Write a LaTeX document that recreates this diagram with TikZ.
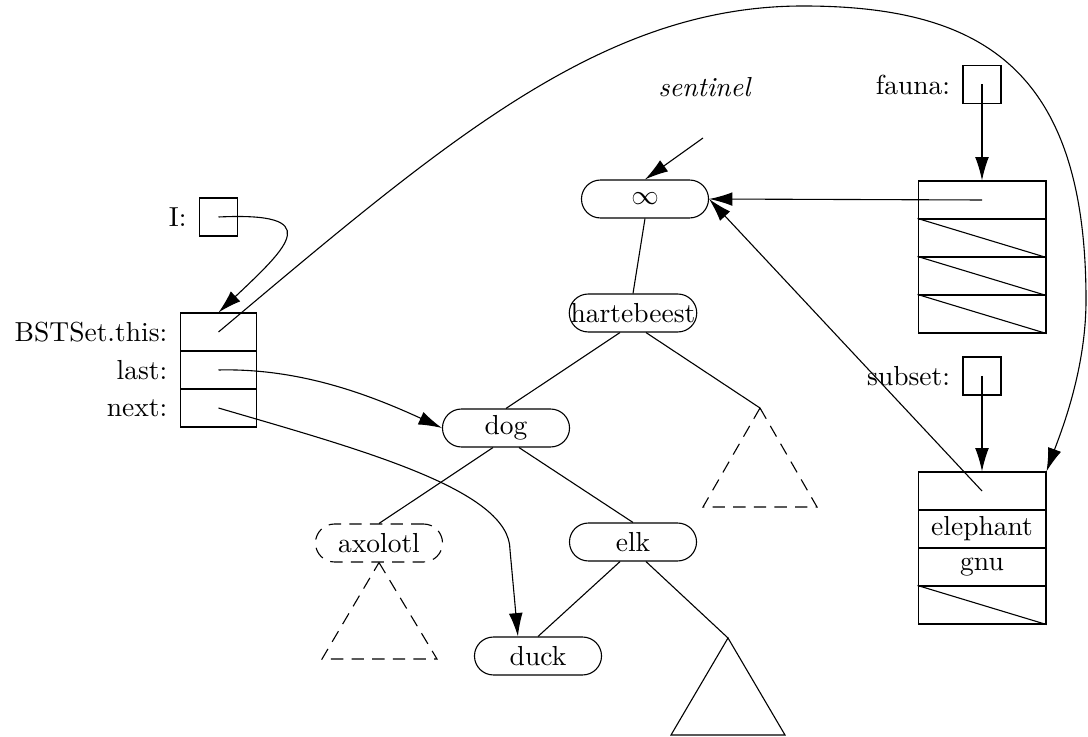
\documentclass[tikz,border=0pt]{standalone}
\usepackage{tikz}
\usetikzlibrary{positioning,arrows.meta}
\tikzset{
  cell/.style={draw, minimum width=46.5pt, minimum height=13.8pt, inner sep=0pt},
  slot/.style={draw, minimum width=13.8pt, minimum height=13.8pt, inner sep=0pt},
  field/.style={draw, minimum width=27.8pt, minimum height=13.8pt, inner sep=0pt},
  bstnode/.style={draw, rounded corners=6.9pt, minimum width=46.2pt, minimum height=13.8pt, inner sep=0.5pt},
  ptr/.style={-{Latex[length=8.5pt,width=5pt]}},
  gone/.style={dash pattern=on 4.5pt off 3pt},
}

\begin{document}
\begin{tikzpicture}[x=0.3636pt,y=-0.3636pt]
\useasboundingbox (0,0) rectangle (1088,737);
% the tree
\node[bstnode] (inf) at (645,199) {$\infty$};
\node[bstnode] (hart) at (633,313) {hartebeest};
\node[bstnode] (dog) at (506,428) {dog};
\node[bstnode, gone] (axo) at (379,543) {axolotl};
\node[bstnode] (elk) at (633,542) {elk};
\node[bstnode] (duck) at (538,656) {duck};
\coordinate (hsub) at (760,408);
\coordinate (esub) at (728,638);
\draw (inf.south) -- (hart.north);
\draw ([xshift=-4.7pt]hart.south) -- (dog.north);
\draw ([xshift=4.7pt]hart.south) -- (hsub);
\draw ([xshift=-4.7pt]dog.south) -- (axo.north);
\draw ([xshift=4.7pt]dog.south) -- (elk.north);
\draw ([xshift=-4.7pt]elk.south) -- (duck.north);
\draw ([xshift=4.7pt]elk.south) -- (esub);
\draw[gone] (hsub) -- (817,507) -- (703,507) -- cycle;
\draw[gone] (axo.south) -- (437,659) -- (322,659) -- cycle;
\draw (esub) -- (785,735) -- (671,735) -- cycle;
%
\node (sent) at (705,87) {\textit{sentinel}};
\coordinate (sentptr) at (703,138);
\draw[ptr] (sentptr) -- (inf.north);
% the iterator
\node[slot] (ibox) at (218.5,217) {};
\node (ilab) [left=1pt of ibox] {I:};
\node[field] (bthis) at (218.5,332) {};
\node[field] (blast) at (218.5,370) {};
\node[field] (bnext) at (218.5,408) {};
\node (thislab) [left=1pt of bthis] {BSTSet.this:};
\node (lastlab) [left=1pt of blast] {last:};
\node (nextlab) [left=1pt of bnext] {next:};
\draw[ptr] (ibox.center) .. controls (325,212) and (290,245) .. (bthis.north);
\draw[ptr] (blast.center) .. controls (300,368) and (370,395) .. (dog.west);
\draw[ptr] (bnext.center) .. controls (362,450) and (510,490) .. (510,550) -- ([xshift=-7.3pt]duck.north);
% fauna
\node[slot] (fbox) at (982,84.5) {};
\node (flab) [left=1pt of fbox] {fauna:};
\node[cell] (f1) at (982,200) {};
\node[cell] (f2) at (982,238) {};
\node[cell] (f3) at (982,276) {};
\node[cell] (f4) at (982,314) {};
\draw (f2.north west) -- (f2.south east);
\draw (f3.north west) -- (f3.south east);
\draw (f4.north west) -- (f4.south east);
\draw[ptr] (fbox.center) -- (f1.north);
\draw[ptr] (f1.center) -- (inf.east);
% subset
\node[slot] (sbox) at (982,376) {};
\node (slab) [left=1pt of sbox] {subset:};
\node[cell] (s1) at (982,491) {};
\node[cell] (s2) at (982,529) {elephant};
\node[cell] (s3) at (982,567) {gnu};
\node[cell] (s4) at (982,605) {};
\draw (s4.north west) -- (s4.south east);
\draw[ptr] (sbox.center) -- (s1.north);
\draw[ptr] (s1.center) -- (inf.east);
%
\draw[ptr] (bthis.center) .. controls (448,139) and (603,6) .. (803,6)
  .. controls (983,6) and (1086,70) .. (1086,300)
  .. controls (1086,370) and (1061,432) .. (s1.north east);
\end{tikzpicture}
\end{document}
